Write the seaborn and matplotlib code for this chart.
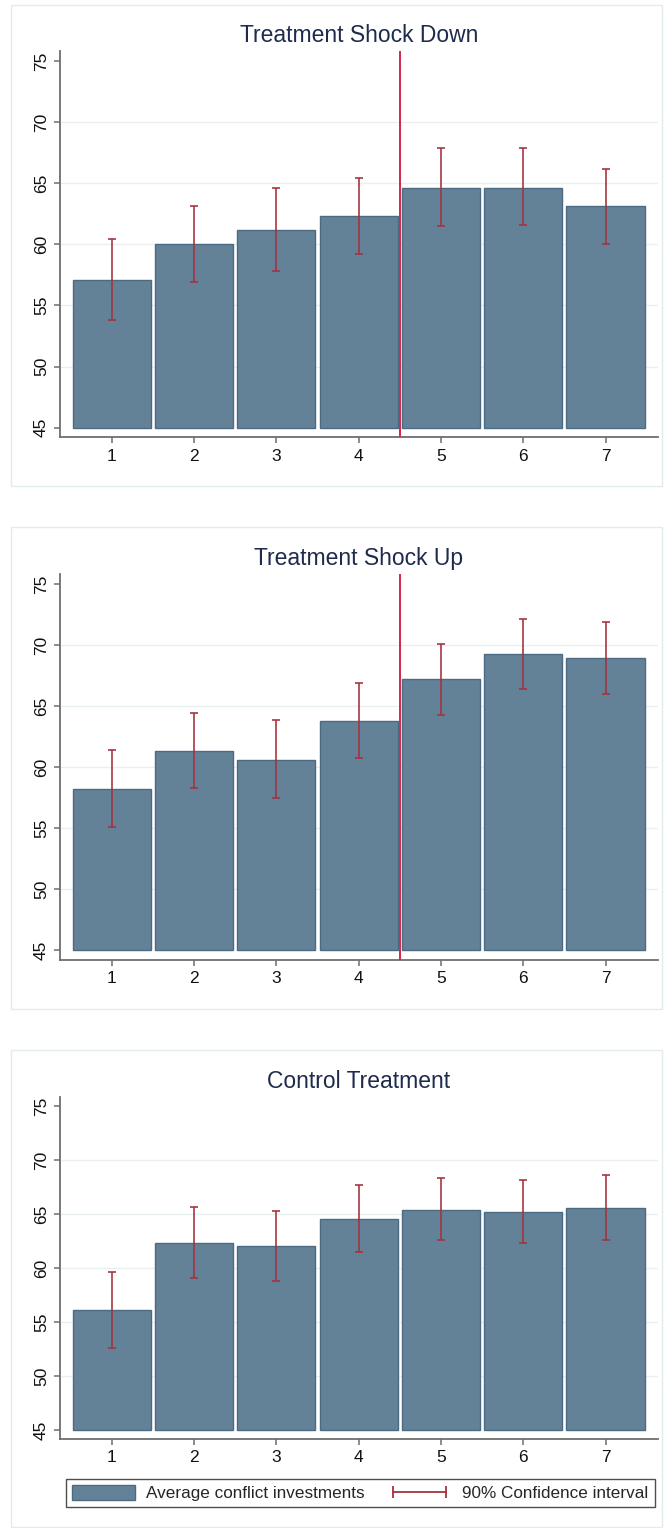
import numpy as np
import pandas as pd
import seaborn as sns
import matplotlib.pyplot as plt
from matplotlib.patches import Rectangle, Patch
from matplotlib.lines import Line2D

# ---- data -------------------------------------------------------------
periods = [1, 2, 3, 4, 5, 6, 7]
titles = ["Treatment Shock Down", "Treatment Shock Up", "Control Treatment"]

down_mean = [57.1, 60.0, 61.2, 62.3, 64.6, 64.6, 63.1]
down_lo = [53.85, 56.95, 57.85, 59.25, 61.5, 61.55, 60.0]
down_hi = [60.45, 63.1, 64.6, 65.45, 67.85, 67.85, 66.2]

up_mean = [58.2, 61.35, 60.6, 63.8, 67.2, 69.25, 68.9]
up_lo = [55.05, 58.3, 57.45, 60.75, 64.3, 66.4, 65.95]
up_hi = [61.4, 64.45, 63.85, 66.9, 70.1, 72.15, 71.9]

ctrl_mean = [56.1, 62.35, 62.05, 64.55, 65.4, 65.2, 65.55]
ctrl_lo = [52.6, 59.1, 58.8, 61.45, 62.55, 62.3, 62.6]
ctrl_hi = [59.65, 65.65, 65.3, 67.7, 68.3, 68.15, 68.6]

shock_at = [4.5, 4.5, None]          # period boundary where the shock hits
y_ticks = [45, 50, 55, 60, 65, 70, 75]
grid_ticks = [50, 55, 60, 65, 70]
base = 45                             # bars rise from this level

legend_labels = ["Average conflict investments", "90% Confidence interval"]

# ---- style ------------------------------------------------------------
sns.set_theme(style="white")
plt.rcParams["font.family"] = ["Liberation Sans", "DejaVu Sans"]

BAR = "#648297"
BAR_EDGE = "#4c6a82"
CI = "#a3333f"
SHOCK = "#d4264c"
GRID = "#e8f0f1"
AXIS = "#6e6e6e"
TITLE = "#1f2b4d"
FRAME = "#e2ebed"

W, H = 664, 1528
fig = plt.figure(figsize=(W / 100, H / 100), dpi=100)
fig.patch.set_facecolor("white")


def fx(px):
    return px / W


def fy(py):
    return 1 - py / H


# panel frames (left, top, right, bottom) in pixels
frames = [(11, 5, 662, 486), (11, 527, 662, 1009), (11, 1050, 662, 1527)]
for l, t, r, b in frames:
    fig.add_artist(Rectangle((fx(l), fy(b)), fx(r - l), (b - t) / H,
                             transform=fig.transFigure, fill=False,
                             ec=FRAME, lw=1.0))

# plot areas: pixel rows of y=45 and y=75
rows = [(427.7, 61.0), (950.0, 584.0), (1430.0, 1106.0)]
title_rows = [36, 558, 1081]
ylo, yhi = 44.2, 75.8
ax_left, ax_right = 60, 657.7

panels = [
    (down_mean, down_lo, down_hi),
    (up_mean, up_lo, up_hi),
    (ctrl_mean, ctrl_lo, ctrl_hi),
]

axes = []
for i, ((mean, lo, hi), (y45, y75)) in enumerate(zip(panels, rows)):
    ppu = (y45 - y75) / (75 - 45)
    top_px = y75 - (yhi - 75) * ppu
    bot_px = y45 + (45 - ylo) * ppu
    ax = fig.add_axes([fx(ax_left), fy(bot_px), fx(ax_right - ax_left),
                       (bot_px - top_px) / H])
    axes.append(ax)

    df = pd.DataFrame({"period": periods, "mean": mean, "lo": lo, "hi": hi})
    df["rise"] = df["mean"] - base

    for g in grid_ticks:
        ax.axhline(g, color=GRID, lw=1.0, zorder=0)

    sns.barplot(data=df, x="period", y="rise", ax=ax, color=BAR,
                saturation=1, width=0.95, errorbar=None, bottom=base,
                edgecolor=BAR_EDGE, linewidth=1.0, zorder=2)

    xpos = np.arange(len(periods))
    ax.errorbar(xpos, df["mean"],
                yerr=[df["mean"] - df["lo"], df["hi"] - df["mean"]],
                fmt="none", ecolor=CI, elinewidth=1.3, capsize=2.9,
                capthick=1.3, alpha=0.9, zorder=3)

    if shock_at[i] is not None:
        ax.axvline(shock_at[i] - periods[0], color=SHOCK, lw=1.4, zorder=4)

    ax.set_xlim(-0.628, 6.634)
    ax.set_ylim(ylo, yhi)
    ax.set_yticks(y_ticks)
    ax.set_yticklabels([str(t) for t in y_ticks], rotation=90, va="center")
    ax.set_xlabel("")
    ax.set_ylabel("")

    fig.text(fx((ax_left + ax_right) / 2), fy(title_rows[i]), titles[i],
             fontsize=16.5, color=TITLE, ha="center", va="center")

    for side in ["top", "right"]:
        ax.spines[side].set_visible(False)
    for side in ["left", "bottom"]:
        ax.spines[side].set_color(AXIS)
        ax.spines[side].set_linewidth(1.3)
    ax.tick_params(axis="both", which="major", length=4, width=1.1,
                   color=AXIS, labelsize=12.5, labelcolor="#111111",
                   left=True, bottom=True, pad=4)
    ax.set_facecolor("white")

# legend under the bottom panel
handles = [
    Patch(facecolor=BAR, edgecolor=BAR_EDGE, linewidth=1.0),
    Line2D([0, 1], [0, 0], color=CI, lw=1.3, marker="|",
           markersize=9, markeredgewidth=1.3),
]
leg = fig.legend(handles, legend_labels, ncol=2, numpoints=2,
                 loc="upper left",
                 bbox_to_anchor=(fx(66), fy(1479)),
                 bbox_transform=fig.transFigure, frameon=True,
                 fancybox=False, edgecolor="#222222", fontsize=12.3,
                 handlelength=3.7, handleheight=1.0, handletextpad=0.65,
                 columnspacing=1.35, borderpad=0.35, borderaxespad=0.0)
leg.get_frame().set_linewidth(1.0)

fig.savefig("out.png", dpi=100, facecolor="white")
